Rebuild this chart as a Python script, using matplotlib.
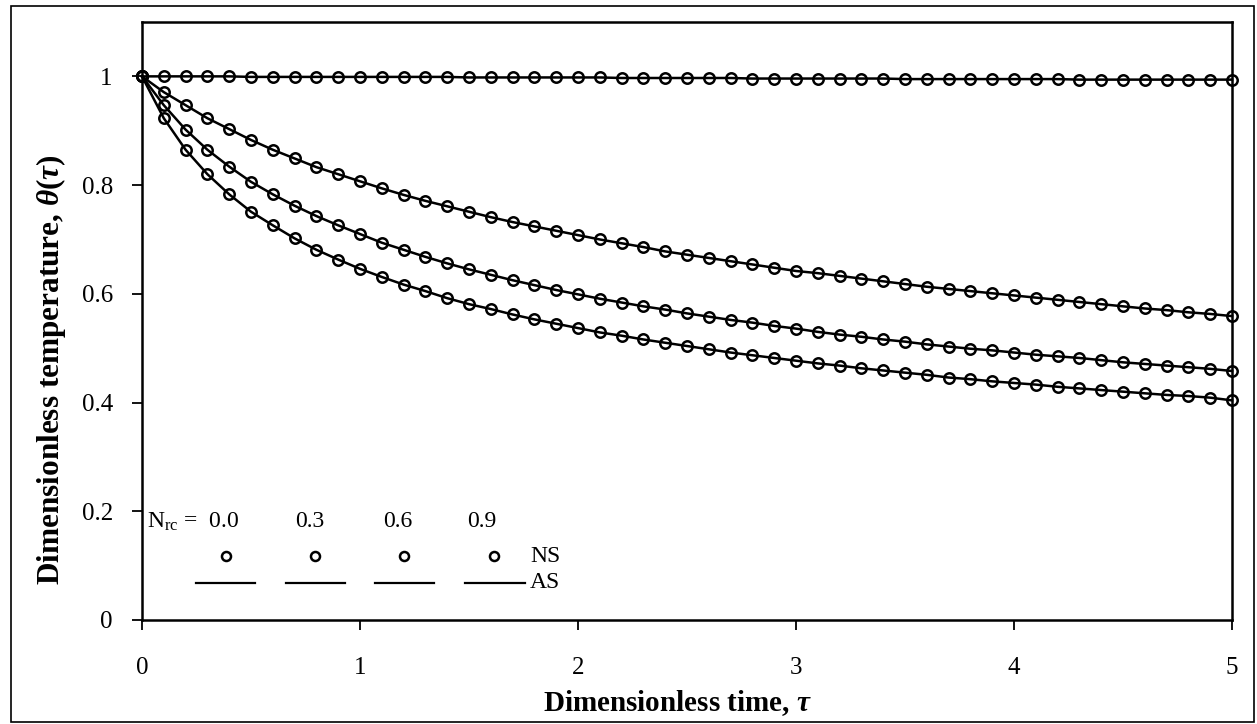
import matplotlib
matplotlib.use("Agg")
import matplotlib.pyplot as plt
from matplotlib.patches import Rectangle
import numpy as np

plt.rcParams["font.family"] = ["Liberation Serif", "DejaVu Serif"]
plt.rcParams["mathtext.fontset"] = "custom"
plt.rcParams["mathtext.rm"] = "Liberation Serif:bold"
plt.rcParams["mathtext.it"] = "Liberation Serif:italic:bold"
plt.rcParams["mathtext.bf"] = "Liberation Serif:bold"

# dimensionless time, read every 0.1
tau = np.arange(51) / 10

theta_00 = [1.000, 1.000, 1.000, 1.000, 1.000, 0.999, 0.999, 0.999, 0.999, 0.999, 0.999,
            0.999, 0.999, 0.999, 0.999, 0.998, 0.998, 0.998, 0.998, 0.998, 0.998,
            0.998, 0.997, 0.997, 0.997, 0.997, 0.997, 0.997, 0.996, 0.996, 0.996,
            0.996, 0.996, 0.996, 0.996, 0.995, 0.995, 0.995, 0.995, 0.995, 0.995,
            0.995, 0.995, 0.994, 0.994, 0.994, 0.994, 0.994, 0.994, 0.994, 0.994]
theta_03 = [1.000, 0.971, 0.947, 0.923, 0.903, 0.883, 0.865, 0.849, 0.833, 0.820, 0.807,
            0.794, 0.782, 0.771, 0.761, 0.751, 0.741, 0.732, 0.724, 0.716, 0.708,
            0.700, 0.693, 0.686, 0.678, 0.672, 0.666, 0.660, 0.654, 0.648, 0.642,
            0.638, 0.633, 0.628, 0.623, 0.618, 0.613, 0.609, 0.605, 0.601, 0.597,
            0.593, 0.589, 0.585, 0.581, 0.577, 0.573, 0.570, 0.566, 0.563, 0.559]
theta_06 = [1.000, 0.947, 0.902, 0.865, 0.834, 0.806, 0.783, 0.762, 0.743, 0.726, 0.710,
            0.694, 0.681, 0.668, 0.656, 0.645, 0.635, 0.625, 0.616, 0.607, 0.599,
            0.591, 0.584, 0.577, 0.571, 0.564, 0.558, 0.552, 0.547, 0.541, 0.536,
            0.530, 0.525, 0.521, 0.516, 0.512, 0.507, 0.503, 0.499, 0.496, 0.492,
            0.488, 0.485, 0.482, 0.478, 0.474, 0.471, 0.468, 0.465, 0.462, 0.458]
theta_09 = [1.000, 0.923, 0.865, 0.820, 0.783, 0.751, 0.726, 0.702, 0.681, 0.663, 0.646,
            0.631, 0.617, 0.605, 0.592, 0.581, 0.572, 0.562, 0.553, 0.545, 0.537,
            0.529, 0.523, 0.516, 0.510, 0.504, 0.498, 0.492, 0.487, 0.482, 0.477,
            0.472, 0.468, 0.463, 0.459, 0.455, 0.451, 0.446, 0.443, 0.439, 0.436,
            0.433, 0.429, 0.426, 0.423, 0.420, 0.417, 0.414, 0.412, 0.409, 0.404]

nrc_labels = ["0.0", "0.3", "0.6", "0.9"]
xticks = [0, 1, 2, 3, 4, 5]
yticks = [0, 0.2, 0.4, 0.6, 0.8, 1.0]
ytick_labels = ["0", "0.2", "0.4", "0.6", "0.8", "1"]

fig = plt.figure(figsize=(12.57, 7.24), dpi=100)
ax = fig.add_axes([142 / 1257, 1 - 620 / 724, 1090 / 1257, 598 / 724])

for th in [theta_00, theta_03, theta_06, theta_09]:
    ax.plot(tau, th, color="black", lw=1.8, marker="o", ms=7.5, mfc="none",
            mec="black", mew=1.8, clip_on=False, zorder=3)

ax.set_xlim(0, 5)
ax.set_ylim(0, 1.1)
ax.set_xticks(xticks)
ax.set_xticklabels([str(t) for t in xticks])
ax.set_yticks(yticks)
ax.set_yticklabels(ytick_labels)
ax.tick_params(axis="both", direction="out", length=7, width=1.3, labelsize=18, colors="black")
ax.tick_params(axis="x", pad=20)
ax.tick_params(axis="y", pad=14)
for s in ax.spines.values():
    s.set_linewidth(1.8)
    s.set_color("black")

ax.set_xlabel(r"Dimensionless time, $\tau$", fontsize=21, fontweight="bold", labelpad=6)
ax.set_ylabel(r"Dimensionless temperature, $\theta(\tau)$", fontsize=22.5, fontweight="bold", labelpad=10)
ax.xaxis.label.set_x(0.491)
ax.yaxis.label.set_y(0.418)

# hand-drawn legend inside the axes
tr = ax.transAxes
ax.text(0.005, 0.164, r"N$_{\mathregular{rc}}$ =  " + nrc_labels[0], transform=tr,
        fontsize=17, ha="left", va="center")
for xc, lab in zip([0.154, 0.235, 0.312], nrc_labels[1:]):
    ax.text(xc, 0.164, lab, transform=tr, fontsize=17, ha="center", va="center")
for xm in [0.077, 0.159, 0.240, 0.323]:
    ax.plot([xm], [0.107], transform=tr, marker="o", ms=6.5, mfc="none", mec="black",
            mew=1.8, ls="none")
for x0, x1 in [(0.0495, 0.104), (0.132, 0.186), (0.214, 0.268), (0.296, 0.351)]:
    ax.plot([x0, x1], [0.062, 0.062], transform=tr, color="black", lw=1.6)
ax.text(0.356, 0.107, "NS", transform=tr, fontsize=17, ha="left", va="center")
ax.text(0.356, 0.062, "AS", transform=tr, fontsize=17, ha="left", va="center")

# frame around the whole figure
fig.patches.append(Rectangle((11 / 1257, 2 / 724), 1243 / 1257, 716 / 724,
                             transform=fig.transFigure, fill=False, ec="black", lw=1.2))

fig.savefig("out.png", dpi=100)
